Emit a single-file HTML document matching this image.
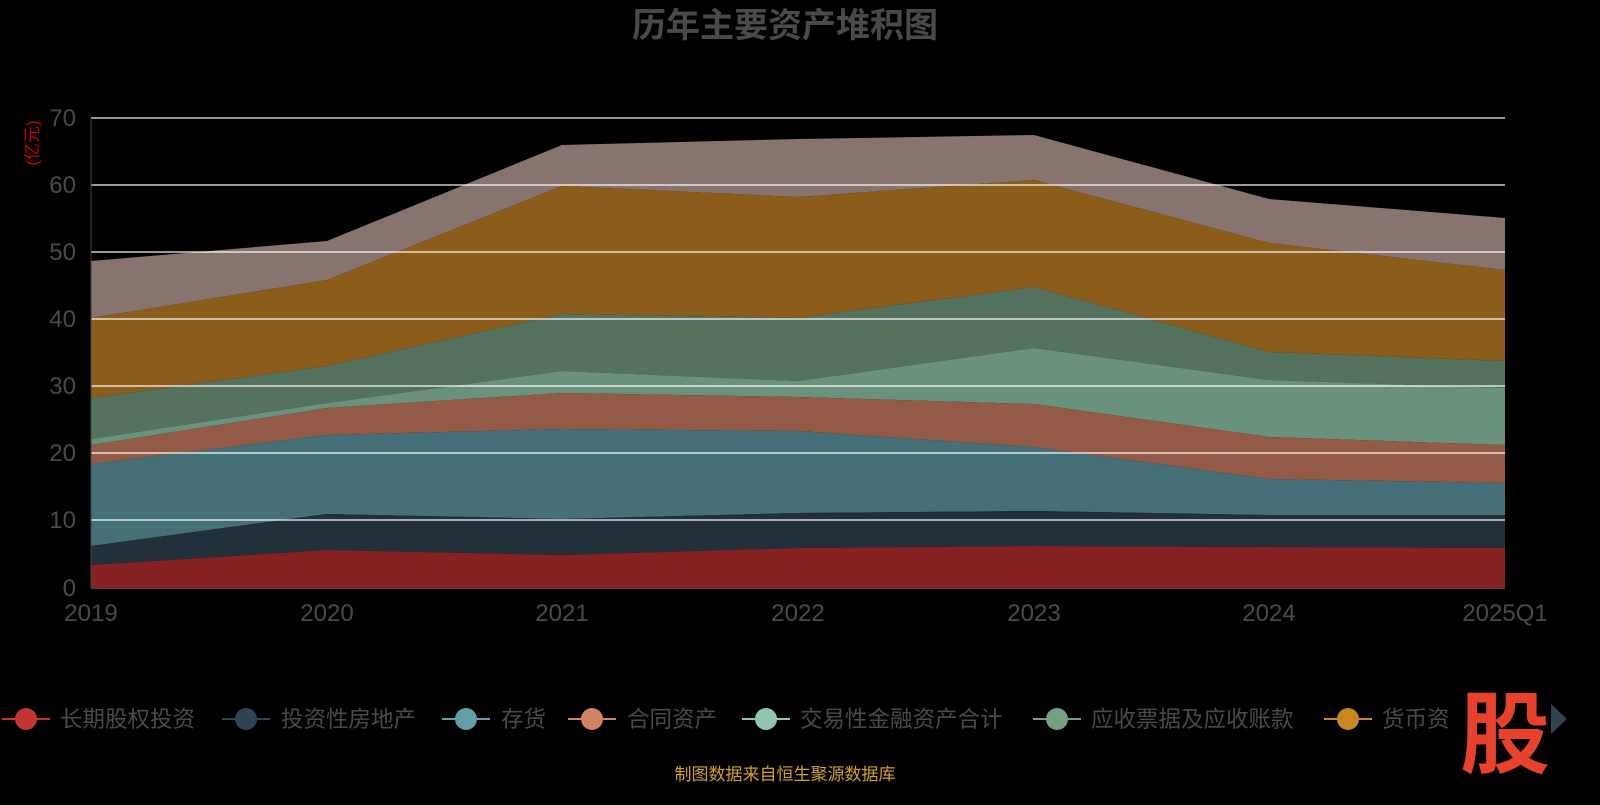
<!DOCTYPE html>
<html><head><meta charset="utf-8"><style>
body{margin:0;background:#000;width:1600px;height:800px;overflow:hidden}
svg text{font-family:"Liberation Sans","Noto Sans CJK SC",sans-serif}
</style></head><body>
<svg width="1600" height="800" xmlns="http://www.w3.org/2000/svg">
<rect width="1600" height="800" fill="#000"/>
<text x="785" y="37" text-anchor="middle" font-size="34" font-weight="bold" fill="#4a4a4a">历年主要资产堆积图</text>
<text x="38" y="143" font-size="17" fill="#c00" transform="rotate(-90 38 143)" text-anchor="middle">(亿元)</text>
<g>
<polygon fill="#87746f" points="91,261 327,241 562,145 798,139 1034,135 1269,199 1505,218 1505,270 1269,243 1034,180 798,197 562,186 327,280 91,318"/>
<polygon fill="#8c5c1a" points="91,318 327,280 562,186 798,197 1034,180 1269,243 1505,270 1505,361 1269,352 1034,287 798,318 562,314 327,366 91,398"/>
<polygon fill="#55725f" points="91,398 327,366 562,314 798,318 1034,287 1269,352 1505,361 1505,388 1269,380 1034,348 798,381 562,371 327,403 91,439"/>
<polygon fill="#6a917c" points="91,439 327,403 562,371 798,381 1034,348 1269,380 1505,388 1505,445 1269,437 1034,404 798,397 562,393 327,408 91,445"/>
<polygon fill="#935a48" points="91,445 327,408 562,393 798,397 1034,404 1269,437 1505,445 1505,483 1269,479 1034,447 798,431 562,429 327,435 91,464"/>
<polygon fill="#467078" points="91,464 327,435 562,429 798,431 1034,447 1269,479 1505,483 1505,515 1269,515 1034,511 798,513 562,519 327,514 91,546"/>
<polygon fill="#21303a" points="91,546 327,514 562,519 798,513 1034,511 1269,515 1505,515 1505,548 1269,547 1034,546 798,548 562,555 327,550 91,565"/>
<polygon fill="#872222" points="91,565 327,550 562,555 798,548 1034,546 1269,547 1505,548 1505,588 91,588"/>
</g>
<g stroke="#fff" stroke-width="1.5" opacity="0.8">
<line x1="91" x2="1505" y1="118" y2="118"/><line x1="91" x2="1505" y1="185" y2="185"/>
<line x1="91" x2="1505" y1="252" y2="252"/><line x1="91" x2="1505" y1="319" y2="319"/>
<line x1="91" x2="1505" y1="386" y2="386"/><line x1="91" x2="1505" y1="453" y2="453"/>
<line x1="91" x2="1505" y1="520" y2="520"/>
</g>
<line x1="91" x2="91" y1="118" y2="588" stroke="#444"/>
<line x1="91" x2="1505" y1="588.5" y2="588.5" stroke="#444"/>
<g font-size="24" fill="#4a4a4a" text-anchor="end">
<text x="76" y="126">70</text><text x="76" y="193">60</text><text x="76" y="260">50</text><text x="76" y="327">40</text>
<text x="76" y="394">30</text><text x="76" y="461">20</text><text x="76" y="528">10</text><text x="76" y="596">0</text>
</g>
<g font-size="24" fill="#4a4a4a" text-anchor="middle">
<text x="91" y="621">2019</text><text x="327" y="621">2020</text><text x="562" y="621">2021</text><text x="798" y="621">2022</text>
<text x="1034" y="621">2023</text><text x="1269" y="621">2024</text><text x="1505" y="621">2025Q1</text>
</g>
<g font-size="22.5" fill="#4a4a4a">
<line x1="2" x2="50" y1="719" y2="719" stroke="#c23531" stroke-width="2"/><circle cx="26" cy="719" r="11" fill="#c23531"/><text x="60" y="727">长期股权投资</text>
<line x1="222" x2="270" y1="719" y2="719" stroke="#2f4554" stroke-width="2"/><circle cx="246" cy="719" r="11" fill="#2f4554"/><text x="281" y="727">投资性房地产</text>
<line x1="442" x2="490" y1="719" y2="719" stroke="#61a0a8" stroke-width="2"/><circle cx="466" cy="719" r="11" fill="#61a0a8"/><text x="501" y="727">存货</text>
<line x1="568" x2="616" y1="719" y2="719" stroke="#d48265" stroke-width="2"/><circle cx="592" cy="719" r="11" fill="#d48265"/><text x="627" y="727">合同资产</text>
<line x1="742" x2="790" y1="719" y2="719" stroke="#91c7ae" stroke-width="2"/><circle cx="766" cy="719" r="11" fill="#91c7ae"/><text x="800" y="727">交易性金融资产合计</text>
<line x1="1033" x2="1081" y1="719" y2="719" stroke="#749f83" stroke-width="2"/><circle cx="1057" cy="719" r="11" fill="#749f83"/><text x="1091" y="727">应收票据及应收账款</text>
<line x1="1324" x2="1372" y1="719" y2="719" stroke="#ca8622" stroke-width="2"/><circle cx="1348" cy="719" r="11" fill="#ca8622"/><text x="1382" y="727">货币资</text>
</g>
<text x="1505" y="766" font-size="90" font-weight="bold" fill="#e8412c" text-anchor="middle">股</text>
<polygon points="1551,704 1567,719 1551,734" fill="#2f4554"/>
<text x="785" y="780" font-size="17" fill="#d4a020" text-anchor="middle">制图数据来自恒生聚源数据库</text>
</svg>
</body></html>
